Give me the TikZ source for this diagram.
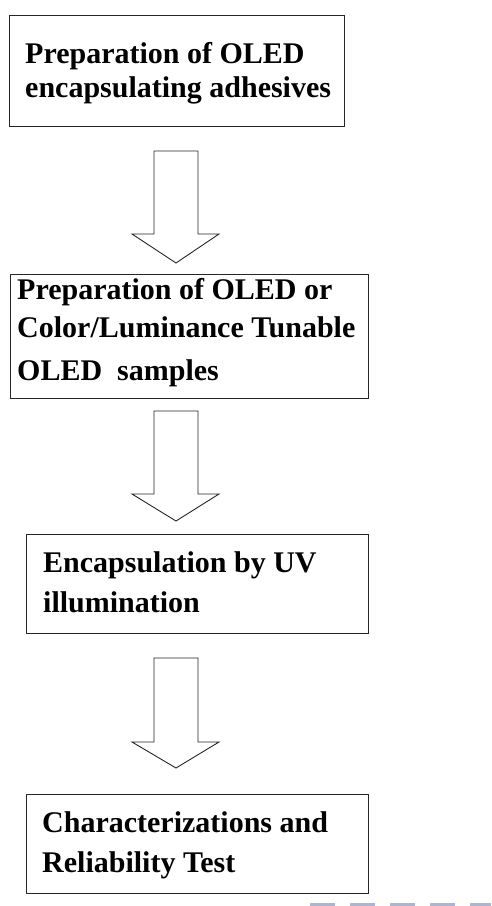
\documentclass[tikz,border=0pt]{standalone}
\usepackage{fontspec}
\setmainfont{Liberation Serif}
\tikzset{
  box/.style={draw=black!85, line width=1.1pt, anchor=north west, inner sep=0pt},
  steptext/.style={anchor=base west, inner sep=0pt, font=\fontsize{30}{34}\selectfont\bfseries},
  blockarrow/.style={draw=black!85, line width=0.9pt, fill=white, line join=miter},
  watermark/.style={draw={rgb,255:red,172;green,182;blue,212}, line width=4pt, dash pattern=on 25pt off 15pt},
}
\begin{document}
\begin{tikzpicture}[x=1pt,y=-1pt]
                \useasboundingbox (0,0) rectangle (491,906);

                \node[box, minimum width=335pt, minimum height=111pt] (prep) at (9,15) {};
                \node[steptext] (prepA) at (25,63) {Preparation of OLED};
                \node[steptext] (prepB) at (25,97) {encapsulating adhesives};

                \node[box, minimum width=358pt, minimum height=124pt] (samp) at (10,274) {};
                \node[steptext] (sampA) at (17,299) {Preparation of OLED or};
                \node[steptext] (sampB) at (17,337) {Color/Luminance Tunable};
                \node[steptext] (sampC) at (17,380) {OLED\ \ samples};

                \node[box, minimum width=342pt, minimum height=99pt] (enc) at (26,534) {};
                \node[steptext] (encA) at (43,572) {Encapsulation by UV};
                \node[steptext] (encB) at (43,612) {illumination};

                \node[box, minimum width=342pt, minimum height=99pt] (char) at (26,794) {};
                \node[steptext] (charA) at (42,832) {Characterizations and};
                \node[steptext] (charB) at (42,872) {Reliability Test};

                \coordinate (arrA) at (176,151);
                \coordinate (arrB) at (176,411);
                \coordinate (arrC) at (176,658);
                \draw[blockarrow] (arrA) ++(-22,0) -- ++(44,0) -- ++(0,83) -- ++(21,0) -- ++(-43,29) -- ++(-44,-29) -- ++(22,0) -- cycle;
                \draw[blockarrow] (arrB) ++(-22,0) -- ++(44,0) -- ++(0,83) -- ++(21,0) -- ++(-43,27) -- ++(-44,-27) -- ++(22,0) -- cycle;
                \draw[blockarrow] (arrC) ++(-22,0) -- ++(44,0) -- ++(0,84) -- ++(21,0) -- ++(-43,26) -- ++(-44,-26) -- ++(22,0) -- cycle;

                \coordinate (wmA) at (310,905);
                \coordinate (wmB) at (491,905);
                \draw[watermark] (wmA) -- (wmB);
\end{tikzpicture}
\end{document}
